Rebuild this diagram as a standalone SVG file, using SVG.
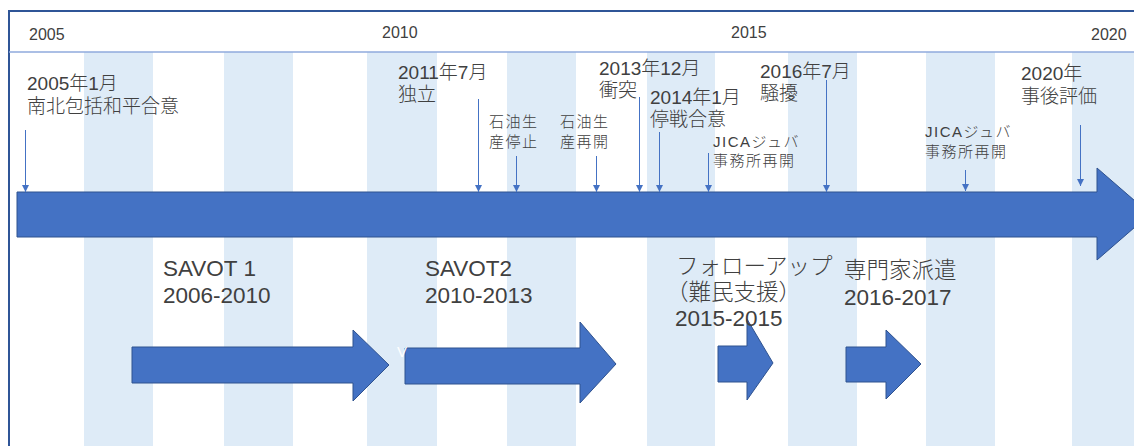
<svg xmlns="http://www.w3.org/2000/svg" width="1134" height="446" viewBox="0 0 1134 446">
<style>
text{font-family:"Liberation Sans","Noto Sans CJK JP",sans-serif;fill:#404040;font-weight:300;}
.yr{font-size:16px;}
.ev{font-size:19px;}
.sm{font-size:15px;letter-spacing:1.5px;}
.pj{font-size:22.5px;}
.stripe{fill:#DEEBF7;}
.arrow{fill:#4472C4;stroke:#2F528F;stroke-width:1;}
.conn{stroke:#4472C4;stroke-width:1;fill:none;marker-end:url(#tip);}
</style>
<defs>
<marker id="tip" markerUnits="userSpaceOnUse" markerWidth="8" markerHeight="8" refX="7" refY="3.5" orient="auto">
<path d="M0,0 L7,3.5 L0,7 z" fill="#4472C4"/>
</marker>
</defs>
<rect width="1134" height="446" fill="#FFFFFF"/>
<g id="stripes">
<rect class="stripe" x="84" y="52" width="69" height="394"/>
<rect class="stripe" x="224" y="52" width="69" height="394"/>
<rect class="stripe" x="367" y="52" width="70" height="394"/>
<rect class="stripe" x="507" y="52" width="69" height="394"/>
<rect class="stripe" x="647" y="52" width="68" height="394"/>
<rect class="stripe" x="788" y="52" width="69" height="394"/>
<rect class="stripe" x="926" y="52" width="69" height="394"/>
<rect class="stripe" x="1072" y="52" width="62" height="394"/>
</g>
<g id="frame">
<line x1="8" y1="11" x2="1134" y2="11" stroke="#2F5597" stroke-width="2.2"/>
<line x1="9" y1="10" x2="9" y2="446" stroke="#2F5597" stroke-width="2"/>
<line x1="9" y1="52" x2="1134" y2="52" stroke="#8FAADC" stroke-width="1.5"/>
</g>
<g id="years">
<text class="yr" x="29" y="40">2005</text>
<text class="yr" x="382" y="38">2010</text>
<text class="yr" x="731" y="38">2015</text>
<text class="yr" x="1091" y="40">2020</text>
</g>
<g id="timeline">
<polygon class="arrow" points="17,192 1097,192 1097,168 1150,214 1097,260 1097,237 17,237"/>
</g>
<g id="connectors">
<line class="conn" x1="25.5" y1="130" x2="25.5" y2="192"/>
<line class="conn" x1="478.5" y1="99" x2="478.5" y2="192"/>
<line class="conn" x1="516.5" y1="156" x2="516.5" y2="192"/>
<line class="conn" x1="596.5" y1="156" x2="596.5" y2="192"/>
<line class="conn" x1="639.5" y1="97" x2="639.5" y2="192"/>
<line class="conn" x1="659.5" y1="132" x2="659.5" y2="192"/>
<line class="conn" x1="708.5" y1="153" x2="708.5" y2="192"/>
<line class="conn" x1="826.5" y1="80" x2="826.5" y2="192"/>
<line class="conn" x1="965.5" y1="170" x2="965.5" y2="191"/>
<line class="conn" x1="1080.5" y1="125" x2="1080.5" y2="186"/>
</g>
<g id="ev2005">
<text class="ev" x="27" y="90">2005年1月</text>
<text class="ev" x="27" y="113">南北包括和平合意</text>
</g>
<g id="ev2011">
<text class="ev" x="398" y="79">2011年7月</text>
<text class="ev" x="398" y="101">独立</text>
</g>
<g id="ev-oil-stop">
<text class="sm" x="489" y="127">石油生</text>
<text class="sm" x="489" y="147">産停止</text>
</g>
<g id="ev-oil-restart">
<text class="sm" x="560" y="127">石油生</text>
<text class="sm" x="560" y="147">産再開</text>
</g>
<g id="ev2013">
<text class="ev" x="599" y="75">2013年12月</text>
<text class="ev" x="599" y="97">衝突</text>
</g>
<g id="ev2014">
<text class="ev" x="650" y="104">2014年1月</text>
<text class="ev" x="650" y="126">停戦合意</text>
</g>
<g id="ev-jica1">
<text class="sm" x="713" y="147">JICAジュバ</text>
<text class="sm" x="713" y="166">事務所再開</text>
</g>
<g id="ev2016">
<text class="ev" x="760" y="78">2016年7月</text>
<text class="ev" x="760" y="100">騒擾</text>
</g>
<g id="ev-jica2">
<text class="sm" x="925" y="137">JICAジュバ</text>
<text class="sm" x="925" y="157">事務所再開</text>
</g>
<g id="ev2020">
<text class="ev" x="1021" y="80">2020年</text>
<text class="ev" x="1021" y="103">事後評価</text>
</g>
<g id="savot1">
<polygon class="arrow" points="132,347 353,347 353,330 389,365 353,401 353,383 132,383"/>
<text class="pj" x="163" y="276">SAVOT 1</text>
<text class="pj" x="163" y="303">2006-2010</text>
</g>
<g id="savot2">
<polygon class="arrow" points="405,348 580,348 580,322 616,364 580,403 580,384 405,384"/>
<text class="pj" x="425" y="276">SAVOT2</text>
<text class="pj" x="425" y="303">2010-2013</text>
<text x="397" y="357" style="font-size:15px;fill:#FFFFFF">V</text>
</g>
<g id="followup">
<polygon class="arrow" points="718,346 747,346 747,319 773,363 747,400 747,382 718,382"/>
<text class="pj" x="676" y="274">フォローアップ</text>
<text class="pj" x="666" y="300">（難民支援）</text>
<text class="pj" x="675" y="326">2015-2015</text>
</g>
<g id="expert">
<polygon class="arrow" points="846,347 886,347 886,330 921,364 886,399 886,382 846,382"/>
<text class="pj" x="844" y="278">専門家派遣</text>
<text class="pj" x="844" y="305">2016-2017</text>
</g>
</svg>
